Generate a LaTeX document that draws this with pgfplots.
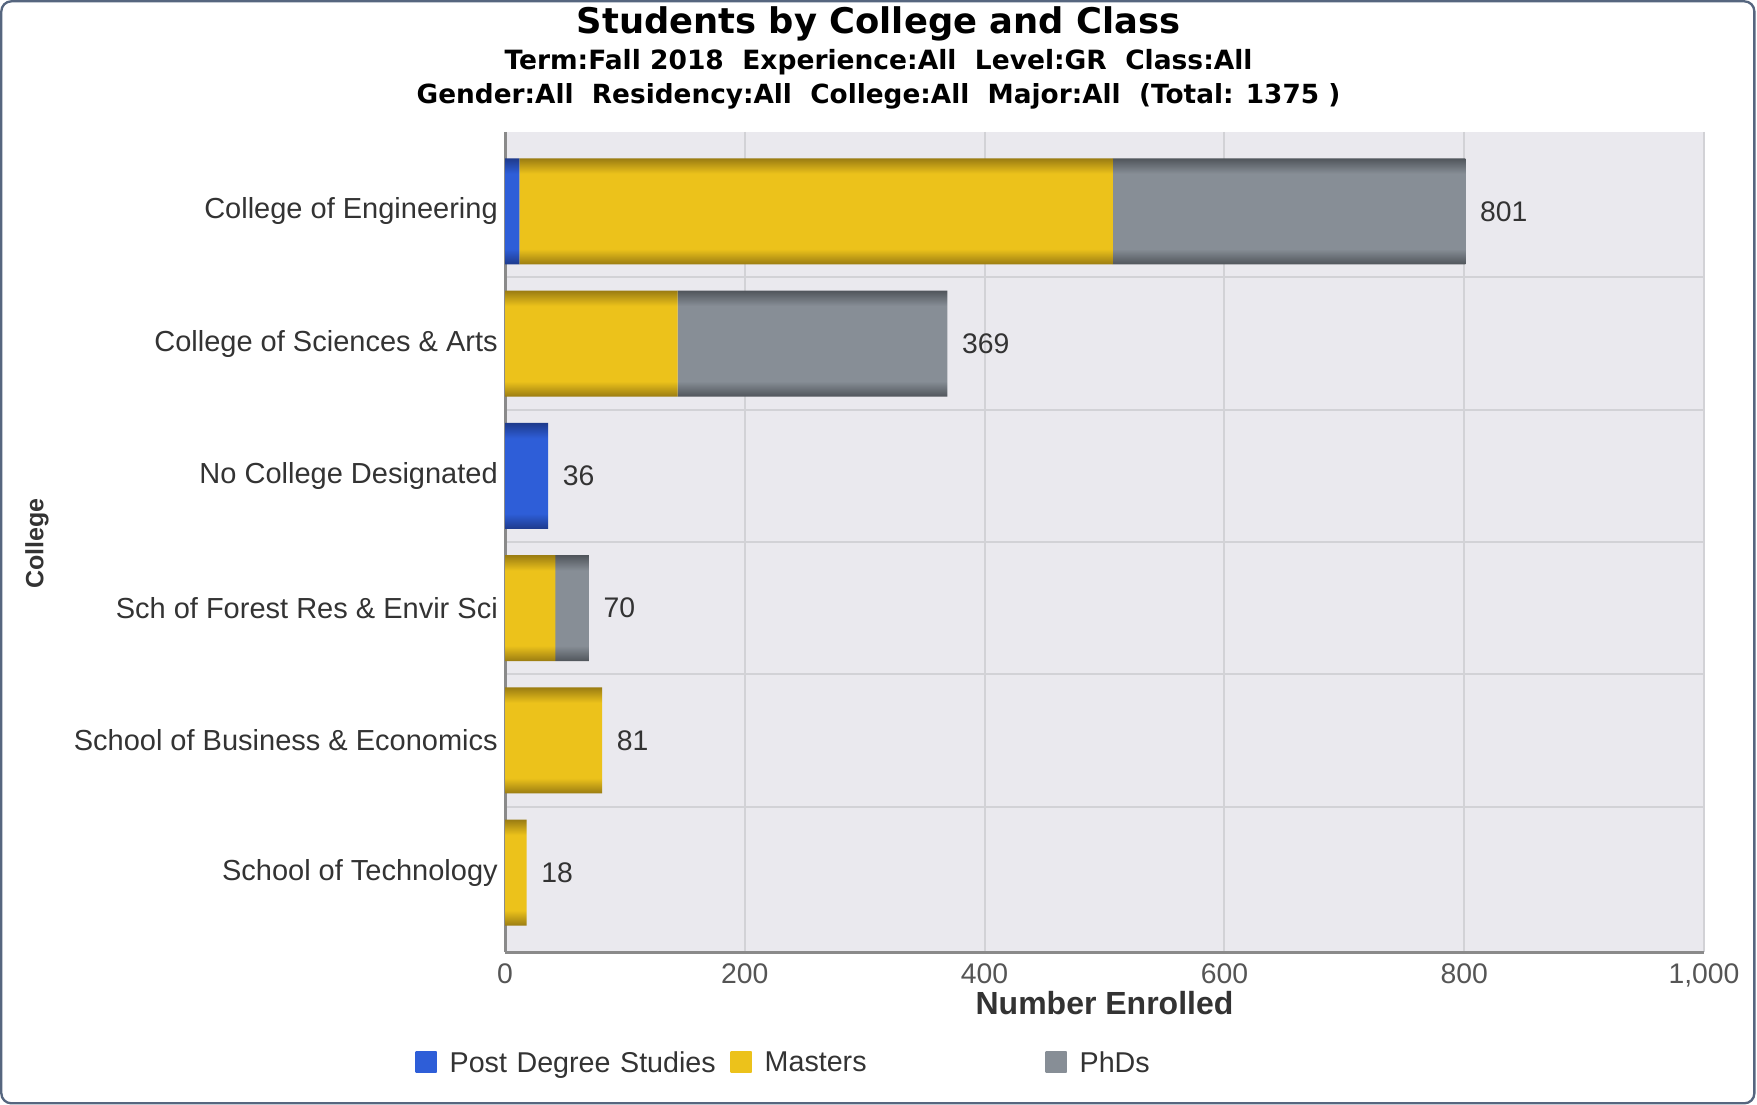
\documentclass[border=0pt]{standalone}
\usepackage{fontspec}
\setmainfont{Liberation Sans}
\newfontfamily\titlefont{DejaVu Sans}
\usepackage{pgfplots}
\pgfplotsset{compat=1.18}
\definecolor{pdsblue}{HTML}{2E5ED8}
\definecolor{pdsdark}{HTML}{1E3A8C}
\definecolor{ylw}{HTML}{ECC21B}
\definecolor{ylwdark}{HTML}{9A7C12}
\definecolor{phdgray}{HTML}{878E96}
\definecolor{phddark}{HTML}{50555B}
\definecolor{plotbg}{HTML}{EAE9EE}
\definecolor{gridcol}{HTML}{D2D2D6}
\definecolor{axiscol}{HTML}{8A8A8A}
\definecolor{framecol}{HTML}{56667F}
\definecolor{txtdark}{HTML}{333333}
\definecolor{ticktxt}{HTML}{555555}
% vertical shadings giving each bar darker top and bottom edges (path bbox maps to 25bp..75bp)
% yellow series: bars in rows 0..5
\pgfdeclareverticalshading{ylwbar}{100bp}{color(0bp)=(ylwdark); color(25bp)=(ylwdark); color(26bp)=(ylw); color(30.91bp)=(ylw); color(31.91bp)=(ylwdark);
 color(33.62bp)=(ylwdark); color(34.62bp)=(ylw); color(39.53bp)=(ylw); color(40.53bp)=(ylwdark);
 color(42.24bp)=(ylwdark); color(43.24bp)=(ylw); color(48.14bp)=(ylw); color(49.14bp)=(ylwdark);
 color(50.85bp)=(ylwdark); color(51.85bp)=(ylw); color(56.76bp)=(ylw); color(57.76bp)=(ylwdark);
 color(59.47bp)=(ylwdark); color(60.47bp)=(ylw); color(65.38bp)=(ylw); color(66.38bp)=(ylwdark);
 color(68.09bp)=(ylwdark); color(69.09bp)=(ylw); color(74bp)=(ylw); color(75bp)=(ylwdark); color(100bp)=(ylwdark)}
% blue series: non-zero bars span rows 0..2
\pgfdeclareverticalshading{pdsbar}{100bp}{color(0bp)=(pdsdark); color(25bp)=(pdsdark); color(27.07bp)=(pdsblue); color(37.23bp)=(pdsblue); color(39.30bp)=(pdsdark);
 color(42.85bp)=(pdsdark); color(44.92bp)=(pdsblue); color(55.08bp)=(pdsblue); color(57.15bp)=(pdsdark);
 color(60.70bp)=(pdsdark); color(62.77bp)=(pdsblue); color(72.93bp)=(pdsblue); color(75bp)=(pdsdark); color(100bp)=(pdsdark)}
% gray series: non-zero bars span rows 0..3
\pgfdeclareverticalshading{phdbar}{100bp}{color(0bp)=(phddark); color(25bp)=(phddark); color(26.53bp)=(phdgray); color(34.01bp)=(phdgray); color(35.54bp)=(phddark);
 color(38.15bp)=(phddark); color(39.68bp)=(phdgray); color(47.17bp)=(phdgray); color(48.70bp)=(phddark);
 color(51.31bp)=(phddark); color(52.84bp)=(phdgray); color(60.32bp)=(phdgray); color(61.85bp)=(phddark);
 color(64.46bp)=(phddark); color(65.99bp)=(phdgray); color(73.47bp)=(phdgray); color(75bp)=(phddark); color(100bp)=(phddark)}
\pgfdeclareverticalshading{pdsflat}{100bp}{color(0bp)=(pdsblue); color(100bp)=(pdsblue)}
\pgfdeclareverticalshading{ylwflat}{100bp}{color(0bp)=(ylw); color(100bp)=(ylw)}
\pgfdeclareverticalshading{phdflat}{100bp}{color(0bp)=(phdgray); color(100bp)=(phdgray)}
\pgfplotsset{
  common/.style={
    at={(151.5pt,45.9pt)}, anchor=south west,
    scale only axis, width=359.7pt, height=246pt,
    bar width=31.8pt,
    xmin=0, xmax=1000, ymin=-0.6, ymax=5.6, y dir=reverse,
    /pgf/number format/assume math mode=true,
    /pgf/number format/1000 sep={,},
  }
}
\begin{document}
\begin{tikzpicture}
\useasboundingbox (0,0) rectangle (527.1pt,331.5pt);
\draw[framecol, line width=0.7pt, rounded corners=3pt] (0.4pt,0.5pt) rectangle (526.3pt,331.1pt);
\node[anchor=base, text=black, font=\titlefont\bfseries\fontsize{10.6}{12}\selectfont] at (263.55pt,321.4pt) {Students by College and Class};
\node[anchor=base, text=black, font=\titlefont\bfseries\fontsize{7.95}{9}\selectfont] at (263.55pt,310.65pt) {Term:Fall 2018\ \ Experience:All\ \ Level:GR\ \ Class:All};
\node[anchor=base, text=black, font=\titlefont\bfseries\fontsize{7.9}{9}\selectfont] at (263.55pt,300.3pt) {Gender:All\ \ Residency:All\ \ College:All\ \ Major:All\ \ (Total: 1375 )};
\begin{axis}[
  common,
  xbar stacked,
  axis background/.style={fill=plotbg},
  axis x line*=bottom, axis y line*=left,
  axis line style={axiscol, line width=0.9pt, -},
  xtick={0,200,400,600,800,1000},
  ytick={0,1,2,3,4,5},
  yticklabels={College of Engineering, College of Sciences \& Arts, No College Designated, Sch of Forest Res \& Envir Sci, School of Business \& Economics, School of Technology},
  minor ytick={0.5,1.5,2.5,3.5,4.5},
  major tick length=0pt, minor tick length=0pt,
  xmajorgrids, yminorgrids,
  grid style={gridcol, line width=0.6pt},
  minor grid style={gridcol, line width=0.6pt},
  xticklabel style={font=\fontsize{8.5}{10}\selectfont, text=ticktxt},
  yticklabel style={font=\fontsize{8.7}{10}\selectfont, text=txtdark, xshift=1.35pt},
  xlabel={Number Enrolled},
  xlabel style={at={(axis description cs:0.5,-0.0622)}, anchor=center, font=\bfseries\fontsize{9.6}{11}\selectfont, text=txtdark},
  ylabel={College},
  ylabel style={at={(axis description cs:-0.3903,0.498)}, anchor=center, rotate=0, font=\bfseries\fontsize{7.5}{9}\selectfont, text=txtdark},
  legend columns=3,
  legend style={at={(axis description cs:-0.0745,-0.137)}, anchor=west, draw=none, fill=none, inner sep=0pt, outer sep=0pt,
    font=\fontsize{8.6}{10}\selectfont, text=txtdark,
    nodes={inner sep=0pt, text width=84.3pt, align=left},
    /tikz/every odd column/.append style={column sep=3.9pt}},
]
\addplot[draw=none, shade, shading=pdsbar, legend image code/.code={\shade[shading=pdsflat] (0pt,-2.35pt) rectangle (6.3pt,3.95pt);}]
  coordinates {(12,0) (0,1) (36,2) (0,3) (0,4) (0,5)};
\addlegendentry{Post Degree Studies}
\addplot[draw=none, shade, shading=ylwbar, legend image code/.code={\shade[shading=ylwflat] (0pt,-2.35pt) rectangle (6.3pt,3.95pt);}]
  coordinates {(495,0) (144,1) (0,2) (42,3) (81,4) (18,5)};
\addlegendentry{Masters}
\addplot[draw=none, shade, shading=phdbar, legend image code/.code={\shade[shading=phdflat] (0pt,-2.35pt) rectangle (6.3pt,3.95pt);}]
  coordinates {(294,0) (225,1) (0,2) (28,3) (0,4) (0,5)};
\addlegendentry{PhDs}
\end{axis}
\begin{axis}[
  common, hide axis, xbar,
  nodes near coords,
  every node near coord/.append style={font=\fontsize{8.5}{10}\selectfont, text=txtdark, anchor=west, xshift=0.9pt},
]
\addplot[draw=none, fill=none] coordinates {(801,0) (369,1) (36,2) (70,3) (81,4) (18,5)};
\end{axis}
\end{tikzpicture}
\end{document}
